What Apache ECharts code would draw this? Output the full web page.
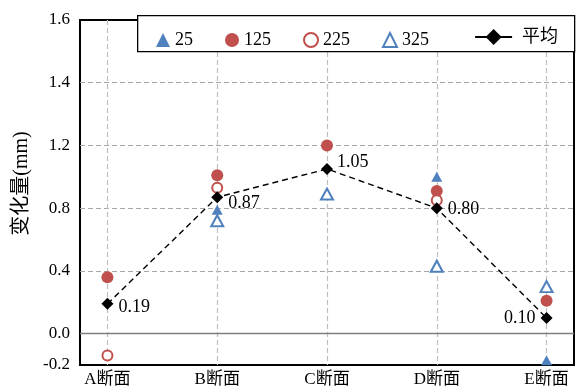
<!DOCTYPE html>
<html>
<head>
<meta charset="utf-8">
<script src="https://cdn.jsdelivr.net/npm/echarts@6/dist/echarts.min.js"></script>
<style>
  html, body { margin: 0; padding: 0; background: #fff; }
  #chart { width: 579px; height: 392px; }
</style>
</head>
<body>
<div id="chart"></div>
<script>
// Sections along the x axis
const categories = ['A断面', 'B断面', 'C断面', 'D断面', 'E断面'];

// Measured change (mm) per section for each series; null = no measurement
const s25  = [null, 0.79, null, 1.00, -0.17];
const s125 = [0.36, 1.01, 1.20, 0.91, 0.21];
const s225 = [-0.14, 0.93, null, 0.85, null];
const s325 = [null, 0.72, 0.89, 0.43, 0.30];
const avg  = [0.19, 0.87, 1.05, 0.80, 0.10];

// Y axis ticks and the text printed at each one
const yTickValues = [-0.2, 0, 0.4, 0.8, 1.2, 1.6, 2.0];
const yTickLabels = ['-0.2', '0.0', '0.4', '0.8', '1.2', '1.4', '1.6'];
const yGridValues = [0.4, 0.8, 1.2, 1.6];
const xTickValues = [1, 2, 3, 4, 5];

const BLUE = '#4F81BD';
const RED = '#C0504D';
const FONT = '"Liberation Serif", "Times New Roman", "Noto Sans CJK SC", serif';

const toPoints = arr => arr.map((v, i) => (v == null ? null : [i + 1, v])).filter(p => p);

// Where each average label sits relative to its marker
const avgLabelPlacement = [
  { position: 'right', offset: [0, 3] },
  { position: 'right', offset: [0, 6] },
  { position: 'right', offset: [-1, -7] },
  { position: 'right', offset: [0, 1] },
  { position: 'left', offset: [0, 0] }
];

const chart = echarts.init(document.getElementById('chart'));

chart.setOption({
  animation: false,
  backgroundColor: '#fff',
  textStyle: { fontFamily: FONT },
  grid: {
    left: 80, right: 5, top: 20, bottom: 27,
    show: true, borderColor: '#000', borderWidth: 2, backgroundColor: 'transparent'
  },
  xAxis: {
    type: 'value',
    min: 0.75, max: 5.25,
    axisLine: { show: false },
    axisTick: { show: false, customValues: xTickValues },
    axisLabel: {
      customValues: xTickValues,
      formatter: v => categories[Math.round(v) - 1],
      color: '#000', fontSize: 17, fontFamily: FONT, margin: 6
    },
    splitLine: { show: true, lineStyle: { color: '#bfbfbf', type: [5, 3], width: 1.2 } }
  },
  yAxis: {
    type: 'value',
    min: -0.2, max: 2.0,
    name: '变化量(mm)',
    nameLocation: 'middle',
    nameGap: 47,
    nameTextStyle: { color: '#000', fontSize: 20, fontFamily: FONT, padding: [0, 0, 0, 18] },
    axisLine: { show: false },
    axisTick: { show: false, customValues: yGridValues },
    axisLabel: {
      customValues: yTickValues,
      formatter: v => {
        const i = yTickValues.findIndex(t => Math.abs(t - v) < 1e-9);
        return i >= 0 ? yTickLabels[i] : '';
      },
      color: '#000', fontSize: 17, fontFamily: FONT, margin: 10
    },
    splitLine: { show: true, lineStyle: { color: '#a6a6a6', type: [5, 3], width: 1.2 } }
  },
  legend: [
    {
      data: ['25', '125', '225', '325'],
      left: 151, top: 26,
      itemWidth: 14, itemHeight: 14, itemGap: 32,
      textStyle: { color: '#000', fontSize: 18, fontFamily: FONT },
      z: 10
    },
    {
      data: ['平均'],
      left: 469, top: 23,
      itemWidth: 37, itemHeight: 20,
      lineStyle: { type: 'solid', width: 2.2, color: '#000' },
      textStyle: { color: '#000', fontSize: 18, fontFamily: FONT, padding: [0, 0, 0, 5] },
      z: 10
    }
  ],
  graphic: [
    {
      type: 'rect', left: 137, top: 15, z: 5,
      shape: { width: 437, height: 36 },
      style: { fill: '#fff', stroke: '#000', lineWidth: 1.3 }
    }
  ],
  series: [
    {
      name: '25', type: 'scatter', symbol: 'triangle', symbolSize: [11, 10],
      itemStyle: { color: BLUE, opacity: 1 },
      data: toPoints(s25), z: 3
    },
    {
      name: '125', type: 'scatter', symbol: 'circle', symbolSize: 12,
      itemStyle: { color: RED, opacity: 1 },
      data: toPoints(s125), z: 3
    },
    {
      name: '225', type: 'scatter', symbol: 'circle', symbolSize: 10,
      itemStyle: { color: '#fff', borderColor: RED, borderWidth: 2, opacity: 1 },
      data: toPoints(s225), z: 3
    },
    {
      name: '325', type: 'scatter', symbol: 'triangle', symbolSize: [12, 11],
      itemStyle: { color: '#fff', borderColor: BLUE, borderWidth: 2, opacity: 1 },
      data: toPoints(s325), z: 3
    },
    {
      name: '平均', type: 'line', symbol: 'diamond', symbolSize: 12,
      itemStyle: { color: '#000' },
      lineStyle: { color: '#000', width: 1.4, type: [6, 4] },
      label: {
        show: true, color: '#000', fontSize: 18, fontFamily: FONT,
        formatter: p => p.value[1].toFixed(2)
      },
      data: avg.map((v, i) => ({ value: [i + 1, v], label: avgLabelPlacement[i] })),
      markLine: {
        silent: true, symbol: 'none', label: { show: false },
        lineStyle: { color: '#7f7f7f', type: 'solid', width: 1.4 },
        data: [{ yAxis: 0 }]
      },
      z: 4
    }
  ]
});
</script>
</body>
</html>
